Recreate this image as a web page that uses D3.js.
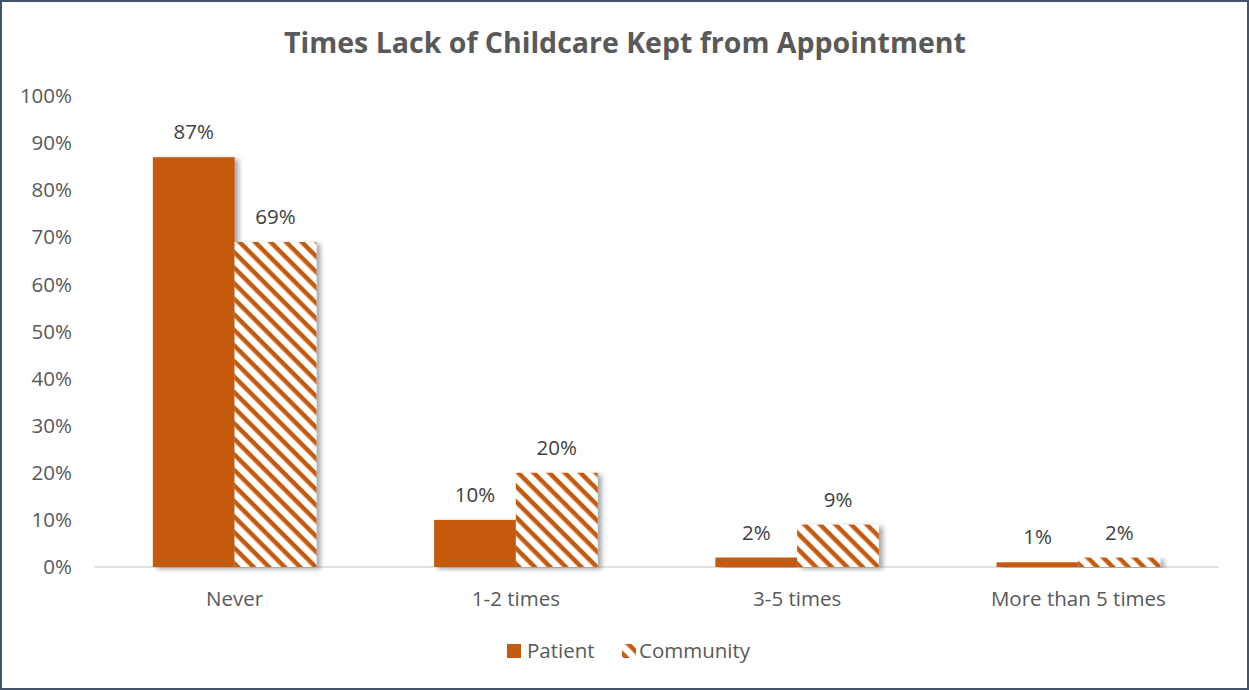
<!DOCTYPE html>
<html>
<head>
<meta charset="utf-8">
<script src="https://cdn.jsdelivr.net/npm/d3@7"></script>
<style>
  body { margin: 0; background: #fff; }
  svg { display: block; font-family: "Open Sans", "Noto Sans", sans-serif; }
</style>
</head>
<body>
<div id="chart"></div>
<script>
var categories = ["Never", "1-2 times", "3-5 times", "More than 5 times"];
var seriesNames = ["Patient", "Community"];
var patient = [87, 10, 2, 1];
var community = [69, 20, 9, 2];
var yTicks = [0, 10, 20, 30, 40, 50, 60, 70, 80, 90, 100];

var W = 1249, H = 690;
var orange = "#C55A11";
var fs = "20.5px";

var svg = d3.select("#chart").append("svg")
  .attr("width", W)
  .attr("height", H);

var defs = svg.append("defs");

// diagonal stripes for Community (top-left to bottom-right)
var pat = defs.append("pattern")
  .attr("id", "stripes")
  .attr("patternUnits", "userSpaceOnUse")
  .attr("width", 11)
  .attr("height", 11)
  .attr("patternTransform", "rotate(45)");
pat.append("rect").attr("width", 11).attr("height", 11).attr("fill", "#fff");
pat.append("rect").attr("width", 11).attr("height", 4.5).attr("fill", orange);

var shadow = defs.append("filter")
  .attr("id", "shadow")
  .attr("x", "-20%").attr("y", "-5%")
  .attr("width", "150%").attr("height", "115%");
shadow.append("feDropShadow")
  .attr("dx", 4).attr("dy", 2)
  .attr("stdDeviation", 2.5)
  .attr("flood-color", "#000")
  .attr("flood-opacity", 0.35);

// outer border
svg.append("rect")
  .attr("x", 1).attr("y", 1)
  .attr("width", W - 2).attr("height", H - 2)
  .attr("fill", "#fff")
  .attr("stroke", "#44546A")
  .attr("stroke-width", 2);

// title
svg.append("text")
  .attr("x", 625)
  .attr("y", 53)
  .attr("text-anchor", "middle")
  .attr("font-size", "28.5px")
  .attr("font-weight", "bold")
  .attr("fill", "#595959")
  .text("Times Lack of Childcare Kept from Appointment");

var x0 = d3.scaleBand()
  .domain(categories)
  .range([94, 1219]);

var x1 = d3.scaleBand()
  .domain(seriesNames)
  .range([0, x0.bandwidth()])
  .paddingInner(0)
  .paddingOuter(0.72);

var y = d3.scaleLinear()
  .domain([0, 100])
  .range([567, 96]);

// y axis labels
svg.append("g")
  .selectAll("text")
  .data(yTicks)
  .enter().append("text")
  .attr("x", 72)
  .attr("y", d => y(d))
  .attr("dy", "0.35em")
  .attr("text-anchor", "end")
  .attr("font-size", fs)
  .attr("fill", "#595959")
  .text(d => d + "%");

// baseline
svg.append("line")
  .attr("x1", 94).attr("x2", 1219)
  .attr("y1", y(0)).attr("y2", y(0))
  .attr("stroke", "#d9d9d9")
  .attr("stroke-width", 1.5);

var rows = categories.map((c, i) => ({ cat: c, vals: [patient[i], community[i]] }));

var groups = svg.append("g").selectAll("g")
  .data(rows)
  .enter().append("g")
  .attr("transform", d => "translate(" + x0(d.cat) + ",0)");

groups.selectAll("rect")
  .data(d => d.vals.map((v, j) => ({ s: seriesNames[j], v: v })))
  .enter().append("rect")
  .attr("x", d => x1(d.s))
  .attr("y", d => y(d.v))
  .attr("width", x1.bandwidth())
  .attr("height", d => y(0) - y(d.v))
  .attr("fill", d => d.s === "Patient" ? orange : "url(#stripes)")
  .attr("filter", "url(#shadow)");

groups.selectAll("text.val")
  .data(d => d.vals.map((v, j) => ({ s: seriesNames[j], v: v })))
  .enter().append("text")
  .attr("class", "val")
  .attr("x", d => x1(d.s) + x1.bandwidth() / 2)
  .attr("y", d => y(d.v) - 18)
  .attr("text-anchor", "middle")
  .attr("font-size", fs)
  .attr("fill", "#404040")
  .text(d => d.v + "%");

// category labels
svg.append("g").selectAll("text")
  .data(categories)
  .enter().append("text")
  .attr("x", d => x0(d) + x0.bandwidth() / 2)
  .attr("y", 606)
  .attr("text-anchor", "middle")
  .attr("font-size", fs)
  .attr("fill", "#595959")
  .text(d => d);

// legend
var legend = svg.append("g").attr("transform", "translate(507,644)");
legend.append("rect")
  .attr("x", 0).attr("y", 0)
  .attr("width", 14).attr("height", 14)
  .attr("fill", orange);
legend.append("text")
  .attr("x", 20).attr("y", 7)
  .attr("dy", "0.35em")
  .attr("font-size", fs)
  .attr("fill", "#595959")
  .text("Patient");
legend.append("rect")
  .attr("x", 622 - 507).attr("y", 0)
  .attr("width", 14).attr("height", 14)
  .attr("fill", "url(#stripes)");
legend.append("text")
  .attr("x", 639 - 507).attr("y", 7)
  .attr("dy", "0.35em")
  .attr("font-size", fs)
  .attr("fill", "#595959")
  .text("Community");
</script>
</body>
</html>
